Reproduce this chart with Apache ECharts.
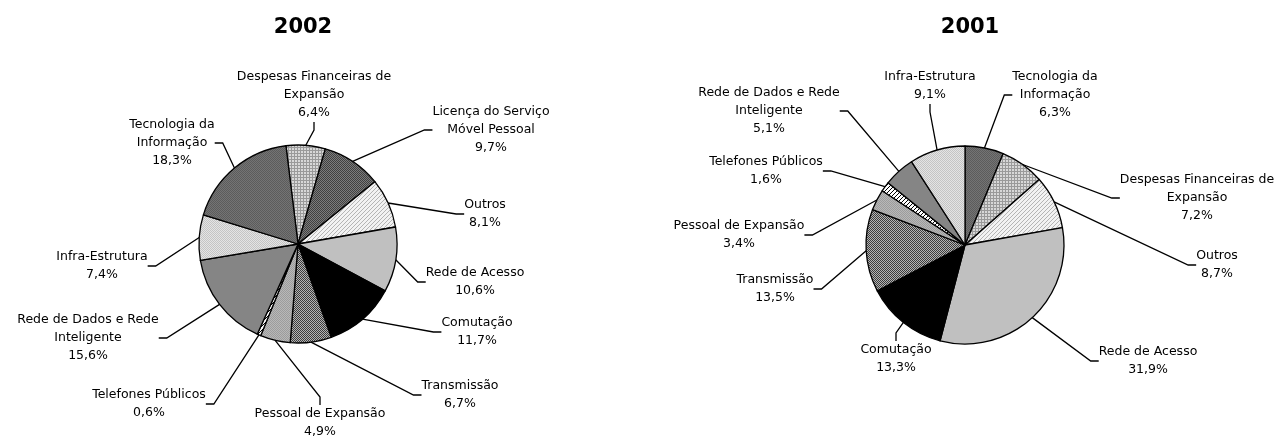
<!DOCTYPE html>
<html>
<head>
<meta charset="utf-8">
<script src="https://cdn.jsdelivr.net/npm/echarts@6/dist/echarts.min.js"></script>
<style>
  html, body { margin: 0; padding: 0; background: #fff; }
  #chart { width: 1284px; height: 438px; }
</style>
</head>
<body>
<div id="chart"></div>
<script>
// categorias e valores (%)
var names2002 = [
  'Despesas Financeiras de\nExpansão', 'Licença do Serviço\nMóvel Pessoal', 'Outros',
  'Rede de Acesso', 'Comutação', 'Transmissão', 'Pessoal de Expansão',
  'Telefones Públicos', 'Rede de Dados e Rede\nInteligente', 'Infra-Estrutura',
  'Tecnologia da\nInformação'
];
var values2002 = [6.4, 9.7, 8.1, 10.6, 11.7, 6.7, 4.9, 0.6, 15.6, 7.4, 18.3];

var names2001 = [
  'Tecnologia da\nInformação', 'Despesas Financeiras de\nExpansão', 'Outros',
  'Rede de Acesso', 'Comutação', 'Transmissão', 'Pessoal de Expansão',
  'Telefones Públicos', 'Rede de Dados e Rede\nInteligente', 'Infra-Estrutura'
];
var values2001 = [6.3, 7.2, 8.7, 31.9, 13.3, 13.5, 3.4, 1.6, 5.1, 9.1];

// posição dos rótulos (centro do texto)
var labelPos2002 = [
  [314, 95], [491, 130], [485, 214], [475, 282], [477, 332], [460, 395],
  [320, 423], [149, 404], [88, 338], [102, 266], [172, 143]
];
var labelPos2001 = [
  [1055, 95], [1197, 198], [1217, 265], [1148, 361], [896, 359], [775, 289],
  [739, 235], [766, 171], [769, 111], [930, 86]
];

// padrões de preenchimento (estilo Excel P&B, tons próximos da média)
function makePattern(size, draw) {
  var c = document.createElement('canvas');
  c.width = size; c.height = size;
  var ctx = c.getContext('2d');
  draw(ctx, size);
  return { image: c, repeat: 'repeat' };
}
function px(ctx, x, y, col) { ctx.fillStyle = col; ctx.fillRect(x, y, 1, 1); }
function checker(a, b) {
  return makePattern(2, function (ctx) {
    px(ctx, 0, 0, a); px(ctx, 1, 1, a); px(ctx, 1, 0, b); px(ctx, 0, 1, b);
  });
}
function grid(line, bg) {
  return makePattern(3, function (ctx) {
    ctx.fillStyle = bg; ctx.fillRect(0, 0, 3, 3);
    ctx.fillStyle = line; ctx.fillRect(0, 0, 3, 1); ctx.fillRect(0, 0, 1, 3);
  });
}
function diag(line, bg) {
  return makePattern(4, function (ctx) {
    ctx.fillStyle = bg; ctx.fillRect(0, 0, 4, 4);
    px(ctx, 3, 0, line); px(ctx, 2, 1, line); px(ctx, 1, 2, line); px(ctx, 0, 3, line);
  });
}

var fills = {
  'Tecnologia da\nInformação': checker('#5c5c5c', '#747474'),
  'Despesas Financeiras de\nExpansão': grid('#9a9a9a', '#d8d8d8'),
  'Licença do Serviço\nMóvel Pessoal': checker('#404040', '#7c7c7c'),
  'Outros': diag('#b4b4b4', '#f2f2f2'),
  'Rede de Acesso': '#c0c0c0',
  'Comutação': '#000000',
  'Transmissão': checker('#3c3c3c', '#b4b4b4'),
  'Pessoal de Expansão': checker('#9c9c9c', '#b8b8b8'),
  'Telefones Públicos': diag('#000000', '#ffffff'),
  'Rede de Dados e Rede\nInteligente': '#858585',
  'Infra-Estrutura': checker('#c4c4c4', '#e4e4e4')
};

function buildData(names, values) {
  return names.map(function (n, i) {
    return { name: n, value: values[i], itemStyle: { color: fills[n] } };
  });
}

function fmtPct(v) { return v.toFixed(1).replace('.', ',') + '%'; }

function pieSeries(names, values, pos, center, startAngle) {
  return {
    type: 'pie',
    center: center,
    radius: 99,
    startAngle: startAngle,
    clockwise: true,
    avoidLabelOverlap: false,
    animation: false,
    data: buildData(names, values),
    itemStyle: { borderColor: '#000', borderWidth: 1.3 },
    label: {
      show: true,
      position: 'outside',
      fontFamily: 'DejaVu Sans',
      fontSize: 12.5,
      lineHeight: 18,
      color: '#000',
      align: 'center',
      formatter: function (p) { return p.name + '\n' + fmtPct(p.value); }
    },
    labelLine: {
      show: true,
      length: 12,
      length2: 8,
      lineStyle: { color: '#000', width: 1.3 }
    },
    labelLayout: function (p) {
      var xy = pos[p.dataIndex];
      return { x: xy[0], y: xy[1], align: 'center', verticalAlign: 'middle' };
    },
    emphasis: { disabled: true }
  };
}

var chart = echarts.init(document.getElementById('chart'));
chart.setOption({
  backgroundColor: '#ffffff',
  title: [
    { text: '2002', left: 298, top: 12, textAlign: 'center',
      textStyle: { fontFamily: 'DejaVu Sans', fontWeight: 'bold', fontSize: 21, color: '#000' } },
    { text: '2001', left: 965, top: 12, textAlign: 'center',
      textStyle: { fontFamily: 'DejaVu Sans', fontWeight: 'bold', fontSize: 21, color: '#000' } }
  ],
  series: [
    pieSeries(names2002, values2002, labelPos2002, [298, 244], 97),
    pieSeries(names2001, values2001, labelPos2001, [965, 245], 90)
  ]
});
</script>
</body>
</html>
